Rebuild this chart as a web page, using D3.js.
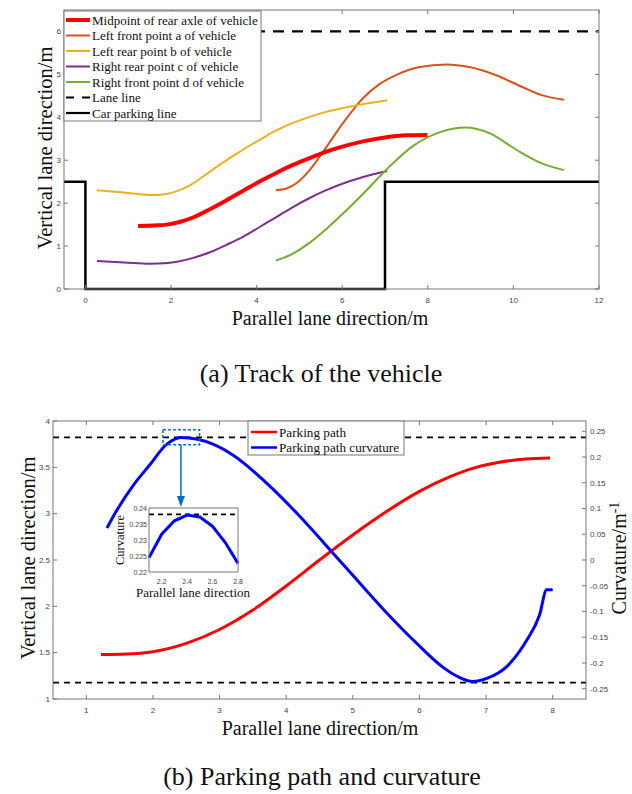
<!DOCTYPE html>
<html>
<head>
<meta charset="utf-8">
<script src="https://cdn.jsdelivr.net/npm/d3@7"></script>
<style>
  html, body { margin: 0; padding: 0; background: #fff; }
  svg { display: block; }
</style>
</head>
<body>
<svg id="fig" width="632" height="794"></svg>
<script>
// ---------- (a) vehicle track data, [x, y] in metres ----------
const rearAxleMid = [[1.23,1.47],[1.6,1.48],[1.9,1.50],[2.2,1.56],[2.5,1.66],[2.91,1.86],[3.3,2.07],[3.69,2.29],[4.08,2.51],[4.47,2.71],[4.85,2.89],[5.24,3.05],[5.6,3.19],[5.94,3.30],[6.49,3.44],[7.0,3.53],[7.5,3.58],[7.99,3.59]];
const leftFrontA  = [[4.45,2.30],[4.7,2.34],[4.95,2.48],[5.24,2.77],[5.5,3.12],[5.75,3.48],[6.0,3.84],[6.25,4.17],[6.49,4.45],[6.88,4.78],[7.27,4.99],[7.81,5.17],[8.43,5.23],[8.97,5.17],[9.6,4.98],[10.22,4.70],[10.68,4.51],[11.18,4.41]];
const leftRearB   = [[0.27,2.30],[0.9,2.25],[1.52,2.19],[1.85,2.21],[2.14,2.28],[2.45,2.42],[2.75,2.62],[3.1,2.87],[3.5,3.13],[3.69,3.25],[4.08,3.48],[4.47,3.70],[4.85,3.87],[5.24,4.01],[5.6,4.12],[5.94,4.20],[6.5,4.31],[7.05,4.40]];
const rightRearC  = [[0.27,0.65],[0.9,0.62],[1.52,0.59],[1.85,0.598],[2.14,0.635],[2.5,0.72],[2.91,0.855],[3.3,1.03],[3.69,1.22],[4.08,1.45],[4.47,1.68],[4.85,1.91],[5.24,2.12],[5.6,2.29],[5.94,2.43],[6.49,2.61],[7.05,2.75]];
const rightFrontD = [[4.45,0.66],[4.86,0.83],[5.24,1.08],[5.63,1.40],[6.0,1.74],[6.49,2.22],[7.03,2.78],[7.65,3.33],[8.27,3.65],[8.88,3.76],[9.44,3.63],[10.06,3.25],[10.68,2.92],[11.18,2.77]];
const laneLineY = 6;
const parkingLine = [[-0.5,2.5],[0,2.5],[0,0],[7,0],[7,2.5],[12,2.5]];
const trackXTicks = [0,2,4,6,8,10,12];
const trackYTicks = [0,1,2,3,4,5,6];
const trackLegend = [
  "Midpoint of rear axle of vehicle",
  "Left front point a of vehicle",
  "Left rear point b of vehicle",
  "Right rear point c of vehicle",
  "Right front point d of vehicle",
  "Lane line",
  "Car parking line"
];

// ---------- (b) parking path and curvature data ----------
const pathPoints = [[1.22,1.48],[1.6,1.485],[2.0,1.51],[2.5,1.60],[3.0,1.75],[3.5,1.96],[4.0,2.22],[4.5,2.50],[5.0,2.77],[5.5,3.02],[6.0,3.24],[6.46,3.40],[6.85,3.50],[7.2,3.555],[7.6,3.59],[7.96,3.60]];
const curvaturePoints = [[1.31,0.062],[1.46,0.097],[1.71,0.146],[1.96,0.186],[2.2,0.224],[2.42,0.238],[2.65,0.235],[2.9,0.225],[3.21,0.203],[3.71,0.149],[4.21,0.084],[4.56,0.034],[4.96,-0.024],[5.46,-0.096],[5.96,-0.162],[6.36,-0.209],[6.6,-0.228],[6.8,-0.236],[7.01,-0.230],[7.31,-0.207],[7.61,-0.156],[7.8,-0.108],[7.91,-0.058],[8.0,-0.058]];
const curvatureLimit = 0.238;
const pathXTicks = [1,2,3,4,5,6,7,8];
const pathYTicks = [1,1.5,2,2.5,3,3.5,4];
const curvTicks = [-0.25,-0.2,-0.15,-0.1,-0.05,0,0.05,0.1,0.15,0.2,0.25];
const pathLegend = ["Parking path", "Parking path curvature"];

// zoomed view of the curvature peak
const peakX = [2.1,2.2,2.3,2.4,2.5,2.6,2.7,2.8];
const peakK = [0.2245,0.2318,0.2360,0.2378,0.2372,0.2343,0.2292,0.2227];
const insetXTicks = [2.2,2.4,2.6,2.8];
const insetYTicks = [0.22,0.225,0.23,0.235,0.24];
const peakBox = {x0: 2.15, x1: 2.7, k0: 0.224, k1: 0.253};

const svg = d3.select("#fig");
const serif = "'Liberation Serif', 'Times New Roman', serif";
const sans = "'Liberation Sans', Arial, sans-serif";
const axisGrey = "#777";
const tickText = "#444";
const smooth = d3.curveMonotoneX;

const fmt = d => String(d);

// Draws a boxed frame with inward ticks on all four sides.
function frame(g, x, y, xt, yt, opts = {}) {
  const [x0, x1] = x.range(), [y0, y1] = y.range();
  const tl = opts.tickLen || 4;
  const fs = opts.fontSize || 8;
  g.append("rect").attr("x", x0).attr("y", y1).attr("width", x1 - x0).attr("height", y0 - y1)
    .attr("fill", "none").attr("stroke", axisGrey).attr("stroke-width", 1);
  const tg = g.append("g").attr("stroke", axisGrey).attr("stroke-width", 1);
  xt.forEach(v => {
    const px = x(v);
    tg.append("line").attr("x1", px).attr("x2", px).attr("y1", y0).attr("y2", y0 - tl);
    tg.append("line").attr("x1", px).attr("x2", px).attr("y1", y1).attr("y2", y1 + tl);
    g.append("text").attr("x", px).attr("y", y0 + (opts.xLabelOff || 12)).attr("text-anchor", "middle")
      .attr("font-family", sans).attr("font-size", fs).attr("fill", tickText).text(fmt(v));
  });
  yt.forEach(v => {
    const py = y(v);
    tg.append("line").attr("x1", x0).attr("x2", x0 + tl).attr("y1", py).attr("y2", py);
    if (!opts.noRightTicks) tg.append("line").attr("x1", x1).attr("x2", x1 - tl).attr("y1", py).attr("y2", py);
    g.append("text").attr("x", x0 - 3).attr("y", py + fs * 0.35).attr("text-anchor", "end")
      .attr("font-family", sans).attr("font-size", fs).attr("fill", tickText).text(fmt(v));
  });
}

function rotatedLabel(g, cx, cy, text, size) {
  return g.append("text").attr("transform", `translate(${cx},${cy}) rotate(-90)`)
    .attr("text-anchor", "middle").attr("font-family", serif).attr("font-size", size)
    .attr("fill", "#111").text(text);
}

// =================== (a) Track of the vehicle ===================
{
  const g = svg.append("g");
  const x = d3.scaleLinear().domain([-0.5, 12]).range([64, 599]);
  const y = d3.scaleLinear().domain([0, 6.5]).range([289, 10]);
  const line = d3.line().x(d => x(d[0])).y(d => y(d[1])).curve(smooth);

  g.append("line").attr("x1", x(-0.5)).attr("x2", x(12)).attr("y1", y(laneLineY)).attr("y2", y(laneLineY))
    .attr("stroke", "#000").attr("stroke-width", 2.2).attr("stroke-dasharray", "11,8");
  g.append("path").attr("d", d3.line().x(d => x(d[0])).y(d => y(d[1]))(parkingLine))
    .attr("fill", "none").attr("stroke", "#000").attr("stroke-width", 2.5);

  const series = [
    [leftFrontA, "#D95319", 2],
    [leftRearB, "#EDB120", 2],
    [rightRearC, "#7E2F8E", 2],
    [rightFrontD, "#77AC30", 2],
    [rearAxleMid, "#FF0000", 4]
  ];
  series.forEach(([data, color, w]) => {
    g.append("path").attr("d", line(data)).attr("fill", "none")
      .attr("stroke", color).attr("stroke-width", w).attr("stroke-linecap", "butt");
  });

  frame(g, x, y, trackXTicks, trackYTicks, {xLabelOff: 14, fontSize: 8});

  // legend
  const lg = g.append("g");
  lg.append("rect").attr("x", 64).attr("y", 11).attr("width", 197).attr("height", 110)
    .attr("fill", "#fff").attr("stroke", axisGrey).attr("stroke-width", 1);
  const legendStyles = [
    ["#FF0000", 4, null], ["#D95319", 2, null], ["#EDB120", 2, null],
    ["#7E2F8E", 2, null], ["#77AC30", 2, null], ["#000", 2.2, "8,8"], ["#000", 2.2, null]
  ];
  trackLegend.forEach((label, i) => {
    const yy = 20 + i * 15.5;
    const [c, w, dash] = legendStyles[i];
    lg.append("line").attr("x1", 66).attr("x2", 90).attr("y1", yy).attr("y2", yy)
      .attr("stroke", c).attr("stroke-width", w).attr("stroke-dasharray", dash);
    lg.append("text").attr("x", 92).attr("y", yy + 4.5).attr("font-family", serif)
      .attr("font-size", 13).attr("fill", "#111").text(label);
  });

  g.append("text").attr("x", 330).attr("y", 325).attr("text-anchor", "middle")
    .attr("font-family", serif).attr("font-size", 20).attr("fill", "#111").text("Parallel lane direction/m");
  rotatedLabel(g, 52, 148, "Vertical lane direction/m", 20.5);
  g.append("text").attr("x", 321).attr("y", 382).attr("text-anchor", "middle")
    .attr("font-family", serif).attr("font-size", 26).attr("fill", "#111").text("(a) Track of the vehicle");
}

// =================== (b) Parking path and curvature ===================
{
  const g = svg.append("g");
  const x = d3.scaleLinear().domain([0.5, 8.5]).range([53, 586]);
  const y = d3.scaleLinear().domain([1, 4]).range([699, 421]);
  const k = d3.scaleLinear().domain([-0.27, 0.27]).range([699, 421]);

  [curvatureLimit, -curvatureLimit].forEach(v => {
    g.append("line").attr("x1", x(0.5)).attr("x2", x(8.5)).attr("y1", k(v)).attr("y2", k(v))
      .attr("stroke", "#000").attr("stroke-width", 1.8).attr("stroke-dasharray", "6,5");
  });

  g.append("path").attr("d", d3.line().x(d => x(d[0])).y(d => y(d[1])).curve(smooth)(pathPoints))
    .attr("fill", "none").attr("stroke", "#FF0000").attr("stroke-width", 3);
  g.append("path").attr("d", d3.line().x(d => x(d[0])).y(d => k(d[1])).curve(smooth)(curvaturePoints))
    .attr("fill", "none").attr("stroke", "#0000FF").attr("stroke-width", 3);

  frame(g, x, y, pathXTicks, pathYTicks, {xLabelOff: 14, fontSize: 8, noRightTicks: true});
  // right curvature axis
  curvTicks.forEach(v => {
    g.append("line").attr("x1", 586).attr("x2", 582).attr("y1", k(v)).attr("y2", k(v))
      .attr("stroke", axisGrey);
    g.append("text").attr("x", 590).attr("y", k(v) + 2.8).attr("font-family", sans)
      .attr("font-size", 8).attr("fill", tickText).text(fmt(v));
  });

  // highlighted peak region and arrow
  const blue2 = "#0072BD";
  g.append("rect").attr("x", x(peakBox.x0)).attr("y", k(peakBox.k1))
    .attr("width", x(peakBox.x1) - x(peakBox.x0)).attr("height", k(peakBox.k0) - k(peakBox.k1))
    .attr("fill", "none").attr("stroke", blue2).attr("stroke-width", 1.5).attr("stroke-dasharray", "3,2");
  const ax = x(2.42);
  g.append("line").attr("x1", ax).attr("x2", ax).attr("y1", k(peakBox.k0)).attr("y2", 498)
    .attr("stroke", blue2).attr("stroke-width", 1.5);
  g.append("path").attr("d", `M${ax - 4},496 L${ax + 4},496 L${ax},507 Z`).attr("fill", blue2);

  // legend
  const lg = g.append("g");
  lg.append("rect").attr("x", 248).attr("y", 421).attr("width", 156).attr("height", 34)
    .attr("fill", "#fff").attr("stroke", axisGrey);
  ["#FF0000", "#0000FF"].forEach((c, i) => {
    const yy = 432 + i * 15.5;
    lg.append("line").attr("x1", 251).attr("x2", 277).attr("y1", yy).attr("y2", yy)
      .attr("stroke", c).attr("stroke-width", 2.5);
    lg.append("text").attr("x", 279).attr("y", yy + 4.5).attr("font-family", serif)
      .attr("font-size", 13.2).attr("fill", "#111").text(pathLegend[i]);
  });

  // inset
  const ix = d3.scaleLinear().domain([2.1, 2.8]).range([149, 238]);
  const iy = d3.scaleLinear().domain([0.22, 0.24]).range([572, 508]);
  const ig = g.append("g");
  ig.append("rect").attr("x", 149).attr("y", 508).attr("width", 89).attr("height", 64).attr("fill", "#fff");
  ig.append("line").attr("x1", ix(2.1)).attr("x2", ix(2.8)).attr("y1", iy(curvatureLimit)).attr("y2", iy(curvatureLimit))
    .attr("stroke", "#000").attr("stroke-width", 1.8).attr("stroke-dasharray", "5,4");
  ig.append("path").attr("d", d3.line().x((d, i) => ix(peakX[i])).y(d => iy(d))(peakK))
    .attr("fill", "none").attr("stroke", "#0000FF").attr("stroke-width", 3);
  ig.append("rect").attr("x", 149).attr("y", 508).attr("width", 89).attr("height", 64)
    .attr("fill", "none").attr("stroke", axisGrey);
  insetXTicks.forEach(v => {
    ig.append("text").attr("x", ix(v)).attr("y", 584).attr("text-anchor", "middle")
      .attr("font-family", sans).attr("font-size", 7).attr("fill", tickText).text(v.toFixed(1));
  });
  insetYTicks.forEach(v => {
    ig.append("text").attr("x", 147).attr("y", iy(v) + 2.5).attr("text-anchor", "end")
      .attr("font-family", sans).attr("font-size", 7).attr("fill", tickText).text(String(v));
  });
  rotatedLabel(ig, 124, 540, "Curvature", 12.5);
  ig.append("text").attr("x", 193).attr("y", 597).attr("text-anchor", "middle")
    .attr("font-family", serif).attr("font-size", 13).attr("fill", "#111").text("Parallel lane direction");

  g.append("text").attr("x", 320).attr("y", 735).attr("text-anchor", "middle")
    .attr("font-family", serif).attr("font-size", 20).attr("fill", "#111").text("Parallel lane direction/m");
  rotatedLabel(g, 35, 558, "Vertical lane direction/m", 20.5);
  const rl = g.append("text").attr("transform", "translate(626,558) rotate(-90)")
    .attr("text-anchor", "middle").attr("font-family", serif).attr("font-size", 20).attr("fill", "#111");
  rl.append("tspan").text("Curvature/m");
  rl.append("tspan").attr("dy", -7).attr("font-size", 14).text("-1");
  g.append("text").attr("x", 322).attr("y", 785).attr("text-anchor", "middle")
    .attr("font-family", serif).attr("font-size", 26).attr("fill", "#111").text("(b) Parking path and curvature");
}
</script>
</body>
</html>
